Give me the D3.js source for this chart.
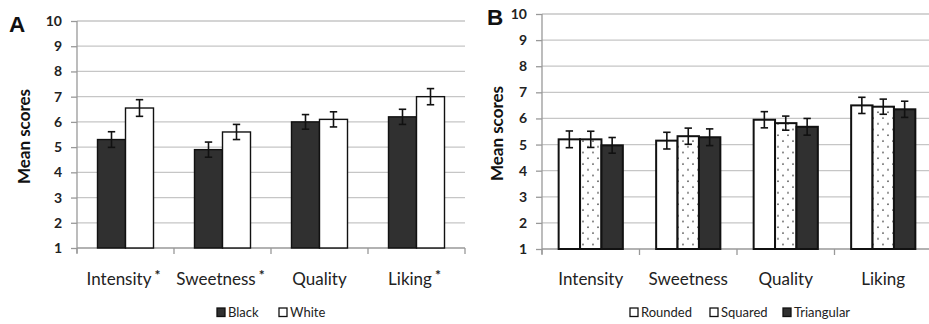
<!DOCTYPE html>
<html>
<head>
<meta charset="utf-8">
<script src="https://cdn.jsdelivr.net/npm/d3@7"></script>
<style>
  html, body { margin: 0; padding: 0; background: #fff; }
  svg { display: block; font-family: Lato, "Open Sans", sans-serif; }
</style>
</head>
<body>
<svg id="chart" width="929" height="324"></svg>
<script>
// Attributes rated in both panels
const attributes = ["Intensity", "Sweetness", "Quality", "Liking"];
// Significance marks shown next to the panel A labels
const markersA = ["*", "*", "", "*"];
const yTicks = [1, 2, 3, 4, 5, 6, 7, 8, 9, 10];

// Panel A: cup colour
const blackMeans = [5.3, 4.9, 6.0, 6.2];
const blackErr = [0.31, 0.3, 0.29, 0.3];
const whiteMeans = [6.55, 5.6, 6.1, 7.0];
const whiteErr = [0.33, 0.3, 0.3, 0.32];

// Panel B: cup shape
const roundedMeans = [5.2, 5.15, 5.95, 6.5];
const roundedErr = [0.32, 0.32, 0.31, 0.31];
const squaredMeans = [5.2, 5.32, 5.82, 6.45];
const squaredErr = [0.31, 0.31, 0.27, 0.29];
const triangularMeans = [4.97, 5.28, 5.68, 6.35];
const triangularErr = [0.3, 0.32, 0.32, 0.31];

const svg = d3.select("#chart");

// Dotted fill used for the "Squared" bars
const defs = svg.append("defs");
const pat = defs.append("pattern")
  .attr("id", "dots")
  .attr("patternUnits", "userSpaceOnUse")
  .attr("width", 10).attr("height", 11.5);
pat.append("rect").attr("width", 10).attr("height", 11.5).attr("fill", "#fff");
pat.append("circle").attr("cx", 3).attr("cy", 3).attr("r", 0.8).attr("fill", "#444");
pat.append("circle").attr("cx", 8).attr("cy", 8.75).attr("r", 0.8).attr("fill", "#444");

const DARK = "#303030";

function drawPanel(opts) {
  const g = svg.append("g");
  const x = d3.scaleBand().domain(attributes).range([opts.left, opts.right]);
  const y = d3.scaleLinear().domain([1, 10]).range([opts.bottom, opts.top]);

  // horizontal gridlines
  g.append("g").selectAll("line").data(yTicks.slice(1)).join("line")
    .attr("x1", opts.left).attr("x2", opts.right)
    .attr("y1", d => y(d)).attr("y2", d => y(d))
    .attr("stroke", "#c6c6c6").attr("stroke-width", 1.3);

  // y axis
  const yAxis = d3.axisLeft(y).tickValues(yTicks).tickSize(6).tickPadding(9);
  const ya = g.append("g").attr("transform", `translate(${opts.left},0)`).call(yAxis);
  ya.select(".domain").attr("stroke", "#999").attr("stroke-width", 1.3)
    .attr("d", `M0,${opts.top}V${opts.bottom + 5}`);
  ya.selectAll(".tick line").attr("stroke", "#999").attr("stroke-width", 1.3);
  ya.selectAll(".tick text")
    .attr("font-family", "Lato, sans-serif")
    .attr("font-size", 14).attr("font-weight", 700).attr("fill", "#222");

  // x axis: category boundary ticks
  const xa = g.append("g").attr("transform", `translate(0,${opts.bottom})`);
  xa.append("line").attr("x1", opts.left).attr("x2", opts.right)
    .attr("stroke", "#999").attr("stroke-width", 1.3);
  const bounds = attributes.map(a => x(a)).concat([opts.right]);
  xa.selectAll("line.bt").data(bounds).join("line").attr("class", "bt")
    .attr("x1", d => d).attr("x2", d => d).attr("y1", 0).attr("y2", 6)
    .attr("stroke", "#999").attr("stroke-width", 1.3);

  // bars
  const n = opts.series.length;
  const bw = opts.barWidth;
  opts.series.forEach((s, si) => {
    const off = (si - n / 2) * bw;
    const bars = g.append("g");
    bars.selectAll("rect").data(s.values).join("rect")
      .attr("x", (d, i) => x(attributes[i]) + x.bandwidth() / 2 + off)
      .attr("y", d => y(d))
      .attr("width", bw)
      .attr("height", d => y(1) - y(d))
      .attr("fill", s.fill)
      .attr("stroke", "#111").attr("stroke-width", opts.barStroke);
  });
  // error bars
  opts.series.forEach((s, si) => {
    const off = (si - n / 2 + 0.5) * bw;
    const eb = g.append("g").attr("stroke", "#111").attr("stroke-width", 1.6);
    s.values.forEach((v, i) => {
      const cx = x(attributes[i]) + x.bandwidth() / 2 + off;
      const e = s.err[i];
      eb.append("line").attr("x1", cx).attr("x2", cx).attr("y1", y(v + e)).attr("y2", y(v - e));
      eb.append("line").attr("x1", cx - 3.7).attr("x2", cx + 3.7).attr("y1", y(v + e)).attr("y2", y(v + e));
      eb.append("line").attr("x1", cx - 3.7).attr("x2", cx + 3.7).attr("y1", y(v - e)).attr("y2", y(v - e));
    });
  });

  // category labels
  const lab = g.append("g");
  attributes.forEach((a, i) => {
    const t = lab.append("text")
      .attr("x", x(a) + x.bandwidth() / 2 + (opts.markers && opts.markers[i] ? -2 : 0))
      .attr("y", 285)
      .attr("text-anchor", "middle")
      .attr("font-size", 17).attr("fill", "#222")
      .text(a);
    if (opts.markers && opts.markers[i]) {
      t.append("tspan").attr("dx", 3).attr("dy", -5).attr("font-size", 14)
        .attr("font-weight", 700).text(opts.markers[i]);
    }
  });

  // y-axis title
  g.append("text")
    .attr("transform", `translate(${opts.titleX},${(opts.top + opts.bottom) / 2 + 2}) rotate(-90)`)
    .attr("text-anchor", "middle")
    .attr("font-size", 17).attr("font-weight", 700).attr("fill", "#111")
    .text("Mean scores");

  // panel letter
  g.append("text").attr("x", opts.letterX).attr("y", opts.letterY)
    .attr("font-family", "Liberation Sans, Arial, sans-serif")
    .attr("font-size", 22.5).attr("font-weight", 700).attr("fill", "#111")
    .text(opts.letter);

  // legend
  const lg = g.append("g").attr("transform", `translate(0,317)`);
  opts.series.forEach((s, si) => {
    const lx = opts.legendX[si];
    lg.append("rect").attr("x", lx).attr("y", -9).attr("width", 8).attr("height", 8.5)
      .attr("fill", s.fill === "url(#dots)" ? "#fff" : s.fill)
      .attr("stroke", "#111").attr("stroke-width", 1.3);
    lg.append("text").attr("x", lx + 11).attr("y", 0)
      .attr("font-size", 13).attr("fill", "#222").text(s.name);
  });
}

drawPanel({
  letter: "A", letterX: 9, letterY: 32,
  left: 77, right: 465, top: 21, bottom: 248,
  titleX: 30,
  barWidth: 28, barStroke: 1.4,
  markers: markersA,
  series: [
    { name: "Black", values: blackMeans, err: blackErr, fill: DARK },
    { name: "White", values: whiteMeans, err: whiteErr, fill: "#fff" }
  ],
  legendX: [217, 279]
});

drawPanel({
  letter: "B", letterX: 487, letterY: 25,
  left: 542, right: 932, top: 14, bottom: 249,
  titleX: 503,
  barWidth: 21.4, barStroke: 2,
  series: [
    { name: "Rounded", values: roundedMeans, err: roundedErr, fill: "#fff" },
    { name: "Squared", values: squaredMeans, err: squaredErr, fill: "url(#dots)" },
    { name: "Triangular", values: triangularMeans, err: triangularErr, fill: DARK }
  ],
  legendX: [630, 710, 783]
});
</script>
</body>
</html>
